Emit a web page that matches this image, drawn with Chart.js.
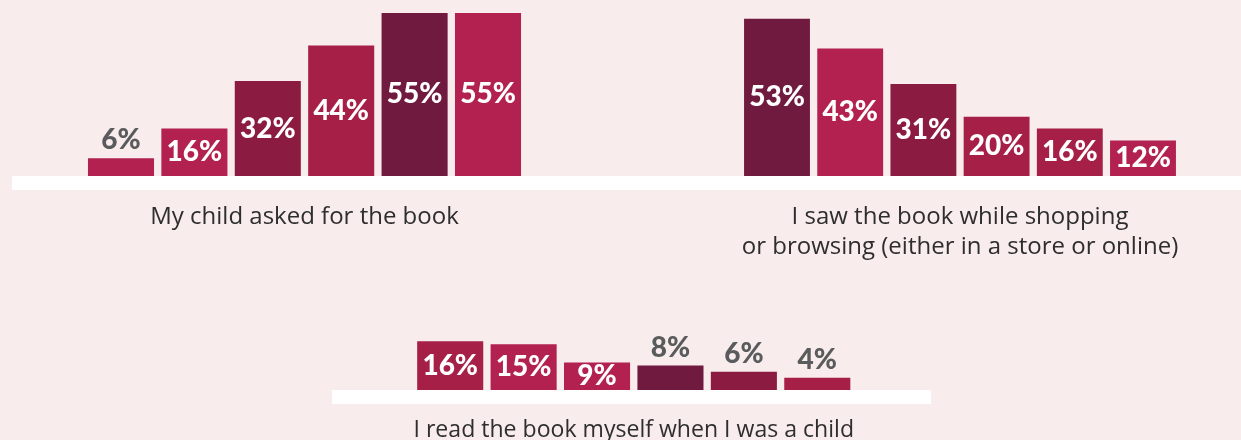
<!DOCTYPE html>
<html>
<head>
<meta charset="utf-8">
<script src="https://cdn.jsdelivr.net/npm/chart.js@4.4.1/dist/chart.umd.min.js"></script>
<style>
  html, body { margin: 0; padding: 0; background: #f9eced; }
  #page { position: relative; width: 1241px; height: 440px; overflow: hidden; background: #f9eced; }
  .panel { position: absolute; }
</style>
</head>
<body>
<div id="page">
  <div class="panel" style="left:0;top:0;width:620px;height:260px;"><canvas id="chart1"></canvas></div>
  <div class="panel" style="left:620px;top:0;width:621px;height:270px;"><canvas id="chart2"></canvas></div>
  <div class="panel" style="left:320px;top:300px;width:620px;height:140px;"><canvas id="chart3"></canvas></div>
</div>
<script>
// six respondent groups, same order in every panel
const groups = ['A', 'B', 'C', 'D', 'E', 'F'];

const childAsked = [6, 16, 32, 44, 55, 55];
const sawShopping = [53, 43, 31, 20, 16, 12];
const readAsChild = [16, 15, 9, 8, 6, 4];

const titleChildAsked = 'My child asked for the book';
const titleSawShopping = ['I saw the book while shopping', 'or browsing (either in a store or online)'];
const titleReadAsChild = 'I read the book myself when I was a child';

const M = '#b22150', R = '#a61f46', D = '#8c1b41', P = '#6f1a3e';
const colorsChildAsked = [M, M, D, R, P, M];
const colorsSawShopping = [P, M, D, R, R, M];
const colorsReadAsChild = [R, M, M, P, D, R];

// white strip under the bars
const bandPlugin = {
    id: 'band',
    beforeDatasetsDraw(chart, args, opts) {
        const ctx = chart.ctx;
        ctx.save();
        ctx.fillStyle = '#ffffff';
        ctx.fillRect(opts.from, chart.chartArea.bottom, opts.to - opts.from, 14);
        ctx.restore();
    }
};

// percent labels: inside the bar when it is tall enough, above it otherwise
const valueLabels = {
    id: 'valueLabels',
    afterDatasetsDraw(chart) {
        const ctx = chart.ctx;
        const data = chart.data.datasets[0].data;
        ctx.save();
        ctx.font = '900 28px Lato';
        ctx.textAlign = 'center';
        ctx.textBaseline = 'middle';
        chart.getDatasetMeta(0).data.forEach((bar, i) => {
            const v = data[i];
            if (v >= 9) {
                ctx.fillStyle = '#ffffff';
                ctx.fillText(v + '%', bar.x, (bar.y + bar.base) / 2);
            } else {
                ctx.fillStyle = '#595b5c';
                ctx.fillText(v + '%', bar.x, bar.y - 18);
            }
        });
        ctx.restore();
    }
};

function makeChart(id, values, colors, title, yMax, pad, titlePad, lineHeight, band) {
    return new Chart(document.getElementById(id), {
        type: 'bar',
        data: {
            labels: groups,
            datasets: [{
                data: values,
                backgroundColor: colors,
                barPercentage: 0.9,
                categoryPercentage: 1
            }]
        },
        options: {
            responsive: true,
            maintainAspectRatio: false,
            animation: false,
            layout: { padding: pad },
            plugins: {
                legend: { display: false },
                tooltip: { enabled: false },
                band: band
            },
            scales: {
                x: {
                    grid: { display: false, drawTicks: false },
                    border: { display: false },
                    ticks: { display: false },
                    title: {
                        display: true,
                        text: title,
                        color: '#2e2e2e',
                        font: { family: 'Open Sans', size: 24, lineHeight: lineHeight },
                        padding: titlePad
                    }
                },
                y: {
                    display: false,
                    min: 0,
                    max: yMax
                }
            }
        },
        plugins: [bandPlugin, valueLabels]
    });
}

makeChart('chart1', childAsked, colorsChildAsked, titleChildAsked, 58,
    { left: 84.3, right: 95.3, top: 4, bottom: 28 }, { top: 26, bottom: 0 }, '30px',
    { from: 12, to: 620 });
makeChart('chart2', sawShopping, colorsSawShopping, titleSawShopping, 58,
    { left: 120.4, right: 61.4, top: 4, bottom: 8 }, { top: 26, bottom: 0 }, '30px',
    { from: 0, to: 621 });
makeChart('chart3', readAsChild, colorsReadAsChild, titleReadAsChild, 20,
    { left: 93.5, right: 86, top: 29, bottom: 0 }, { top: 30, bottom: 0 }, '20px',
    { from: 12, to: 611 });
</script>
</body>
</html>
